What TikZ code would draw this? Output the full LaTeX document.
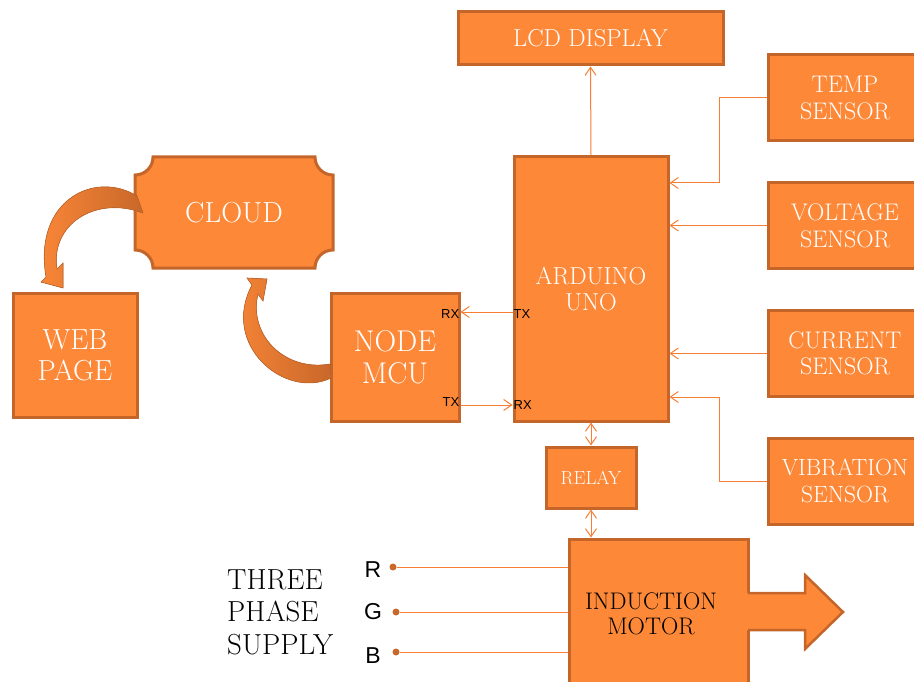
\documentclass[tikz,border=0pt]{standalone}
\usepackage{fontspec}
\newfontfamily\sigfont{Liberation Sans}
\usetikzlibrary{arrows.meta}
\definecolor{boxfill}{RGB}{252,136,56}
\definecolor{boxedge}{RGB}{196,101,42}
\definecolor{wire}{RGB}{247,126,52}
\definecolor{arrowdark}{RGB}{200,104,42}
\begin{document}
\begin{tikzpicture}[x=1pt,y=-1pt,
	block/.style={draw=boxedge,fill=boxfill,line width=3pt,text=white,align=center,inner sep=0pt},
	sensor/.style={block,minimum width=154pt,minimum height=86pt,font=\fontsize{24}{26.5}\selectfont},
	link/.style={draw=wire,line width=1pt,-{Straight Barb[length=8pt,width=11pt]}},
	dlink/.style={link,{Straight Barb[length=8pt,width=11pt]}-{Straight Barb[length=8pt,width=11pt]}},
	phase/.style={draw=wire,line width=1pt},
	sig/.style={font=\sigfont\fontsize{13}{13}\selectfont,inner sep=1pt},
	phaselabel/.style={font=\sigfont\fontsize{23}{23}\selectfont,inner sep=0pt},
	dot/.style={circle,fill=arrowdark,inner sep=0pt,minimum size=7pt},
	bentarrow/.style={draw=boxedge,line width=0.6pt,left color=boxfill,right color=arrowdark}]
	\useasboundingbox (0,0) rectangle (914,682);
	
	% cloud with cut corners
	\filldraw[draw=boxedge,fill=boxfill,line width=3pt] (135,175) .. controls (145,175) and (153,167) .. (153,157) -- (315,157) .. controls (315,167) and (323,175) .. (333,175) -- (333,250) .. controls (323,250) and (315,258) .. (315,268) -- (153,268) .. controls (153,258) and (145,250) .. (135,250) -- cycle;
	\node[text=white,font=\fontsize{29}{32}\selectfont,inner sep=0pt] (cloud) at (234,212.5) {CLOUD};
	
	\node[block,minimum width=124pt,minimum height=124pt,font=\fontsize{29}{31}\selectfont] (web) at (75,355) {WEB\\PAGE};
	\node[block,minimum width=128pt,minimum height=128pt,font=\fontsize{30}{32}\selectfont] (nodemcu) at (395,357) {NODE\\MCU};
	\node[block,minimum width=154pt,minimum height=264pt,font=\fontsize{24.5}{26.5}\selectfont] (arduino) at (591,289) {ARDUINO\\UNO};
	\node[block,minimum width=265pt,minimum height=53pt,font=\fontsize{24.5}{26}\selectfont] (lcd) at (590.5,38.5) {LCD DISPLAY};
	\node[block,minimum width=90pt,minimum height=61pt,font=\fontsize{19}{21}\selectfont] (relay) at (591,477.5) {RELAY};
	
	\node[sensor] (temp) at (845,98) {TEMP\\SENSOR};
	\node[sensor] (volt) at (845,225.5) {VOLTAGE\\SENSOR};
	\node[sensor] (curr) at (845,353.5) {CURRENT\\SENSOR};
	\node[sensor,font=\fontsize{23.5}{26.5}\selectfont] (vib) at (845,481) {VIBRATION\\SENSOR};
	
	% motor and its shaft arrow
	\node[block,minimum width=179pt,minimum height=150pt] (motor) at (658.5,614) {};
	\fill[boxfill] (746,593) -- (805,593) -- (805,575) -- (843,612) -- (805,649) -- (805,630) -- (746,630) -- cycle;
	\draw[boxedge,line width=2.5pt] (748,593) -- (805,593) -- (805,575) -- (843,612) -- (805,649) -- (805,630) -- (748,630);
	\node[align=center,font=\fontsize{24}{25.5}\selectfont,inner sep=0pt] (motortext) at (651,614) {INDUCTION\\MOTOR};
	
	% sensor lines
	\coordinate (tempbend) at (719,183);
	\coordinate (vibbend) at (719,397);
	\draw[link] (temp.west) -| (tempbend) -- (arduino.east |- tempbend);
	\draw[link] (volt.west) -- (arduino.east |- volt.west);
	\draw[link] (curr.west) -- (arduino.east |- curr.west);
	\draw[link] (vib.west) -| (vibbend) -- (arduino.east |- vibbend);
	\draw[link] (arduino.north) -- (lcd.south);
	
	% serial link
	\coordinate (upper) at (480,312);
	\coordinate (lower) at (480,405);
	\draw[link] (arduino.west |- upper) -- (nodemcu.east |- upper);
	\draw[link] (nodemcu.east |- lower) -- (arduino.west |- lower);
	\node[sig,anchor=east] (rxnode) at ([yshift=-2pt]nodemcu.east |- upper) {RX};
	\node[sig,anchor=west] (txard) at ([yshift=-2pt]arduino.west |- upper) {TX};
	\node[sig,anchor=east] (txnode) at ([yshift=3pt]nodemcu.east |- lower) {TX};
	\node[sig,anchor=west] (rxard) at (arduino.west |- lower) {RX};
	
	% relay
	\draw[dlink] (arduino.south) -- (relay.north);
	\draw[dlink] (relay.south) -- (relay.south |- motor.north);
	
	% curved arrows
	\filldraw[bentarrow] (137,196) .. controls (95,170) and (33,200) .. (46,277) -- (41,282) -- (63,288) -- (63,263) -- (57,269) .. controls (50,225) and (95,195) .. (143,213) -- cycle;
	\filldraw[bentarrow] (331,378) .. controls (285,400) and (220,345) .. (252,285) -- (247,278) -- (267,279) -- (263,301) -- (258,294) .. controls (248,335) and (285,372) .. (330,364) -- cycle;
	
	% three phase supply
	\node[align=left,anchor=west,inner sep=0pt,font=\fontsize{29}{32.5}\selectfont] (supply) at (227,612) {THREE\\PHASE\\SUPPLY};
	\node[dot] (rdot) at (393,567) {};
	\node[dot] (gdot) at (396,612) {};
	\node[dot] (bdot) at (396,652) {};
	\node[phaselabel] (rlab) at (373,570) {R};
	\node[phaselabel] (glab) at (373,612) {G};
	\node[phaselabel] (blab) at (373,656) {B};
	\draw[phase] (rdot) -- (motor.west |- rdot);
	\draw[phase] (gdot) -- (motor.west |- gdot);
	\draw[phase] (bdot) -- (motor.west |- bdot);
\end{tikzpicture}
\end{document}
